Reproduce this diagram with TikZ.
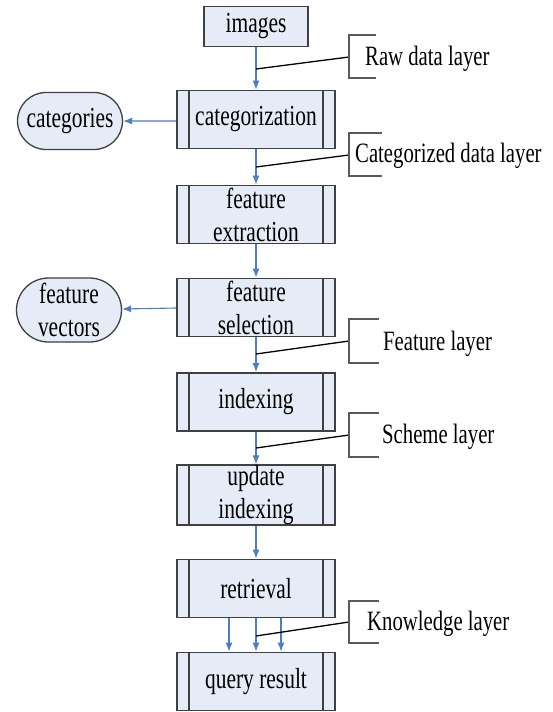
\documentclass[tikz,border=0pt]{standalone}
\usepackage{fontspec}
\setmainfont[FakeStretch=0.74]{Liberation Serif}
\usetikzlibrary{arrows.meta,shapes.misc}

\definecolor{boxfill}{RGB}{230,236,247}
\definecolor{boxedge}{RGB}{64,64,64}
\definecolor{arrowblue}{RGB}{74,126,200}
\definecolor{bracketgray}{RGB}{90,90,90}

\begin{document}
\begin{tikzpicture}[x=1pt,y=-1pt,
  txt/.style={font=\fontsize{29}{33}\selectfont},
  proc/.style={txt, draw=boxedge, line width=1.8pt, fill=boxfill,
    minimum width=158pt, minimum height=58pt, inner sep=0pt, align=center,
    path picture={\draw[line width=1.4pt, boxedge]
      ([xshift=12pt]path picture bounding box.north west) --
      ([xshift=12pt]path picture bounding box.south west)
      ([xshift=-12pt]path picture bounding box.north east) --
      ([xshift=-12pt]path picture bounding box.south east);}},
  plainbox/.style={txt, draw=boxedge, line width=1.8pt, fill=boxfill,
    minimum width=104pt, minimum height=40pt, inner sep=0pt},
  terminal/.style={txt, rounded rectangle, draw=boxedge, line width=1.3pt,
    fill=boxfill, minimum width=105pt, inner sep=0pt, align=center},
  flow/.style={draw=arrowblue, line width=1.1pt, -{Latex[length=9pt,width=7pt]}},
  callout/.style={draw=black, line width=1.3pt},
  bracket/.style={draw=bracketgray, line width=1.8pt},
  lab/.style={font=\fontsize{28}{32}\selectfont, anchor=base west, inner sep=0pt}
]
\useasboundingbox (0,0) rectangle (553,712);

% process chain
\node[plainbox] (img) at (256,26.5) {images};
\node[proc] (cat) at (256,119.5) {categorization};
\node[proc] (fext) at (256,214.5) {feature\\extraction};
\node[proc] (fsel) at (256,307.5) {feature\\selection};
\node[proc] (idx) at (256,402) {indexing};
\node[proc] (upd) at (256,495) {update\\indexing};
\node[proc] (ret) at (256,588.5) {retrieval};
\node[proc] (qry) at (256,681.5) {query result};

% side outputs
\node[terminal, minimum height=57pt] (cats) at (70,121) {categories};
\node[terminal, minimum height=64pt] (fvec) at (69,310) {feature\\vectors};

% connectors
\draw[flow] (img) -- (cat);
\draw[flow] (cat) -- (fext);
\draw[flow] (fext) -- (fsel);
\draw[flow] (fsel) -- (idx);
\draw[flow] (idx) -- (upd);
\draw[flow] (upd) -- (ret);
\draw[flow] ([xshift=-27pt]ret.south) -- ([xshift=-27pt]qry.north);
\draw[flow] (ret) -- (qry);
\draw[flow] ([xshift=25pt]ret.south) -- ([xshift=25pt]qry.north);
\draw[flow] (cat.west |- 0,121) -- (cats);
\draw[flow] (fsel.west |- 0,308) -- (fvec);

% layer callouts
\coordinate (pRaw) at (256,69);
\coordinate (pCat) at (256,167);
\coordinate (pFea) at (256,354);
\coordinate (pSch) at (256,448);
\coordinate (pKno) at (256,636);

\coordinate (bRaw) at (349,57);
\coordinate (bCat) at (349,155);
\coordinate (bFea) at (349,341);
\coordinate (bSch) at (349,435);
\coordinate (bKno) at (349,622);

\draw[callout] (pRaw) -- (bRaw);
\draw[callout] (pCat) -- (bCat);
\draw[callout] (pFea) -- (bFea);
\draw[callout] (pSch) -- (bSch);
\draw[callout] (pKno) -- (bKno);

\draw[bracket] (bRaw) ++(27,-22) -- ++(-27,0) -- ++(0,43) -- ++(27,0);
\draw[bracket] (bCat) ++(33,-22) -- ++(-33,0) -- ++(0,43) -- ++(33,0);
\draw[bracket] (bFea) ++(30,-22) -- ++(-30,0) -- ++(0,44) -- ++(30,0);
\draw[bracket] (bSch) ++(30,-22) -- ++(-30,0) -- ++(0,44) -- ++(30,0);
\draw[bracket] (bKno) ++(30,-21) -- ++(-30,0) -- ++(0,42) -- ++(30,0);

\node[lab] (lRaw) at (365,65) {Raw data layer};
\node[lab] (lCat) at (355,162) {Categorized data layer};
\node[lab] (lFea) at (383,350) {Feature layer};
\node[lab] (lSch) at (382,443) {Scheme layer};
\node[lab] (lKno) at (367,630) {Knowledge layer};
\end{tikzpicture}
\end{document}
